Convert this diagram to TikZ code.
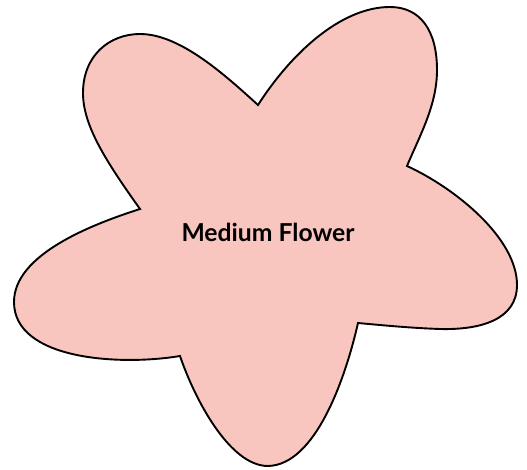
\documentclass[tikz,border=0pt]{standalone}
\usepackage{fontspec}
\setmainfont{Lato}
\definecolor{petal}{HTML}{F9C5BF}
\tikzset{flower/.style={fill=petal, draw=black, line width=1.9pt, line join=miter},
  label/.style={font=\bfseries\fontsize{24.7}{28}\selectfont, text=black, inner sep=0pt}}
\begin{document}
\begin{tikzpicture}[x=1pt,y=-1pt]
\useasboundingbox (0,0) rectangle (527,470);
\coordinate (A) at (258,105);
\coordinate (B) at (407,166);
\coordinate (C) at (358,323);
\coordinate (D) at (180,356);
\coordinate (E) at (140,209);
\path[flower] (E)
  .. controls (105,160) and (83,125) .. (83,93)
  .. controls (83,55) and (110,34) .. (140,34)
  .. controls (180,34) and (225,75) .. (A)
  .. controls (290,55) and (340,7) .. (390,7)
  .. controls (420,7) and (437,30) .. (437,70)
  .. controls (437,105) and (420,135) .. (B)
  .. controls (455,188) and (517,238) .. (517,285)
  .. controls (517,320) and (480,330) .. (440,329)
  .. controls (410,328) and (380,325) .. (C)
  .. controls (345,380) and (315,465) .. (268,466)
  .. controls (230,466) and (195,400) .. (D)
  .. controls (120,366) and (14,360) .. (14,302)
  .. controls (14,255) and (90,225) .. (E)
  -- cycle;
\node[label, anchor=base] (t) at (268,242) {Medium Flower};
\end{tikzpicture}
\end{document}
